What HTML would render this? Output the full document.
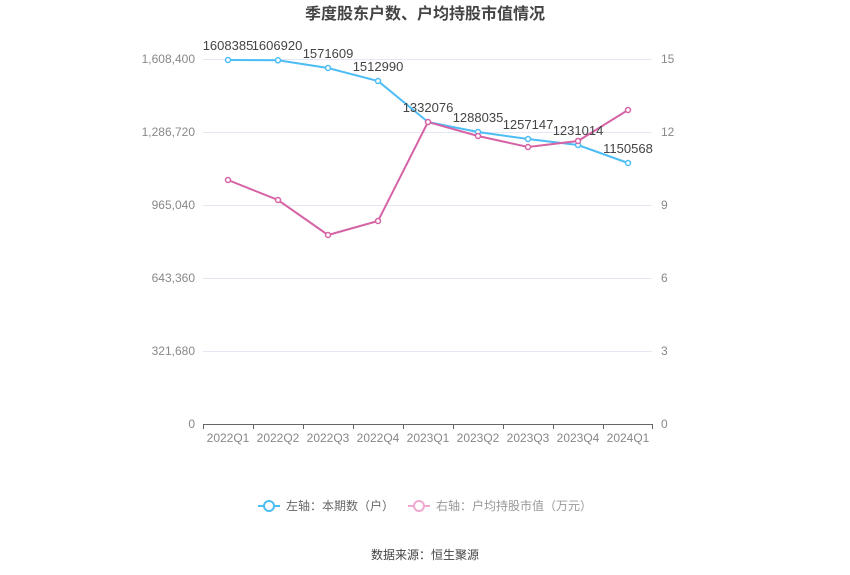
<!DOCTYPE html>
<html><head><meta charset="utf-8"><style>
html,body{margin:0;padding:0;background:#fff;width:850px;height:575px;overflow:hidden}
svg text{font-family:"Liberation Sans","Noto Sans CJK SC",sans-serif}
</style></head><body>
<svg width="850" height="575" viewBox="0 0 850 575" xmlns="http://www.w3.org/2000/svg">
<text x="425" y="19" text-anchor="middle" font-size="16" font-weight="bold" fill="#444">季度股东户数、户均持股市值情况</text>
<g stroke="#e3e8f2" stroke-width="1">
<line x1="203" x2="652" y1="59.5" y2="59.5"/><line x1="203" x2="652" y1="132.5" y2="132.5"/>
<line x1="203" x2="652" y1="205.5" y2="205.5"/><line x1="203" x2="652" y1="278.5" y2="278.5"/>
<line x1="203" x2="652" y1="351.5" y2="351.5"/>
</g>
<line x1="203" x2="652" y1="424.5" y2="424.5" stroke="#666"/>
<g stroke="#666"><line x1="203.5" x2="203.5" y1="424" y2="429"/><line x1="253.5" x2="253.5" y1="424" y2="429"/><line x1="303.5" x2="303.5" y1="424" y2="429"/><line x1="353.5" x2="353.5" y1="424" y2="429"/><line x1="403.5" x2="403.5" y1="424" y2="429"/><line x1="453.5" x2="453.5" y1="424" y2="429"/><line x1="503.5" x2="503.5" y1="424" y2="429"/><line x1="553.5" x2="553.5" y1="424" y2="429"/><line x1="603.5" x2="603.5" y1="424" y2="429"/><line x1="652.5" x2="652.5" y1="424" y2="429"/></g>
<g font-size="12" fill="#888" text-anchor="end">
<text x="195" y="63">1,608,400</text><text x="195" y="136">1,286,720</text><text x="195" y="209">965,040</text>
<text x="195" y="282">643,360</text><text x="195" y="355">321,680</text><text x="195" y="428">0</text>
</g>
<g font-size="12" fill="#888">
<text x="661" y="63">15</text><text x="661" y="136">12</text><text x="661" y="209">9</text>
<text x="661" y="282">6</text><text x="661" y="355">3</text><text x="661" y="428">0</text>
</g>
<g font-size="12" fill="#888" text-anchor="middle">
<text x="228" y="442">2022Q1</text><text x="278" y="442">2022Q2</text><text x="328" y="442">2022Q3</text>
<text x="378" y="442">2022Q4</text><text x="428" y="442">2023Q1</text><text x="478" y="442">2023Q2</text>
<text x="528" y="442">2023Q3</text><text x="578" y="442">2023Q4</text><text x="628" y="442">2024Q1</text>
</g>
<polyline fill="none" stroke="#4dbdf5" stroke-width="2" points="228,60 278,60.3 328,68 378,81 428,122 478,132 528,139 578,145 628,163"/>
<polyline fill="none" stroke="#d563a5" stroke-width="2" points="228,180 278,200 328,235 378,221 428,122 478,136 528,147 578,141 628,110"/>
<g fill="#fff" stroke="#4dbdf5" stroke-width="1.5">
<circle cx="228" cy="60" r="2.5"/><circle cx="278" cy="60.3" r="2.5"/><circle cx="328" cy="68" r="2.5"/><circle cx="378" cy="81" r="2.5"/><circle cx="478" cy="132" r="2.5"/><circle cx="528" cy="139" r="2.5"/><circle cx="578" cy="145" r="2.5"/><circle cx="628" cy="163" r="2.5"/>
</g>
<g fill="#fff" stroke="#d563a5" stroke-width="1.5">
<circle cx="228" cy="180" r="2.5"/><circle cx="278" cy="200" r="2.5"/><circle cx="328" cy="235" r="2.5"/><circle cx="378" cy="221" r="2.5"/><circle cx="428" cy="122" r="2.5"/><circle cx="478" cy="136" r="2.5"/><circle cx="528" cy="147" r="2.5"/><circle cx="578" cy="141" r="2.5"/><circle cx="628" cy="110" r="2.5"/>
</g>
<g font-size="13" fill="#444" text-anchor="middle">
<text x="228" y="50">1608385</text><text x="277" y="50">1606920</text><text x="328" y="58">1571609</text>
<text x="378" y="71">1512990</text><text x="428" y="112">1332076</text><text x="478" y="122">1288035</text>
<text x="528" y="129">1257147</text><text x="578" y="135">1231014</text><text x="628" y="153">1150568</text>
</g>
<g font-size="12" fill="#666">
<line x1="258" x2="280" y1="506" y2="506" stroke="#4dbdf5" stroke-width="2"/>
<circle cx="269" cy="506" r="5" fill="#fff" stroke="#4dbdf5" stroke-width="2"/>
<text x="286" y="510">左轴：本期数（户）</text>
<line x1="408" x2="430" y1="506" y2="506" stroke="#f0a8d0" stroke-width="2"/>
<circle cx="419" cy="506" r="5" fill="#fff" stroke="#f0a8d0" stroke-width="2"/>
<text x="436" y="510" fill="#999">右轴：户均持股市值（万元）</text>
</g>
<text x="425" y="559" text-anchor="middle" font-size="12" fill="#444">数据来源：恒生聚源</text>
</svg>
</body></html>
